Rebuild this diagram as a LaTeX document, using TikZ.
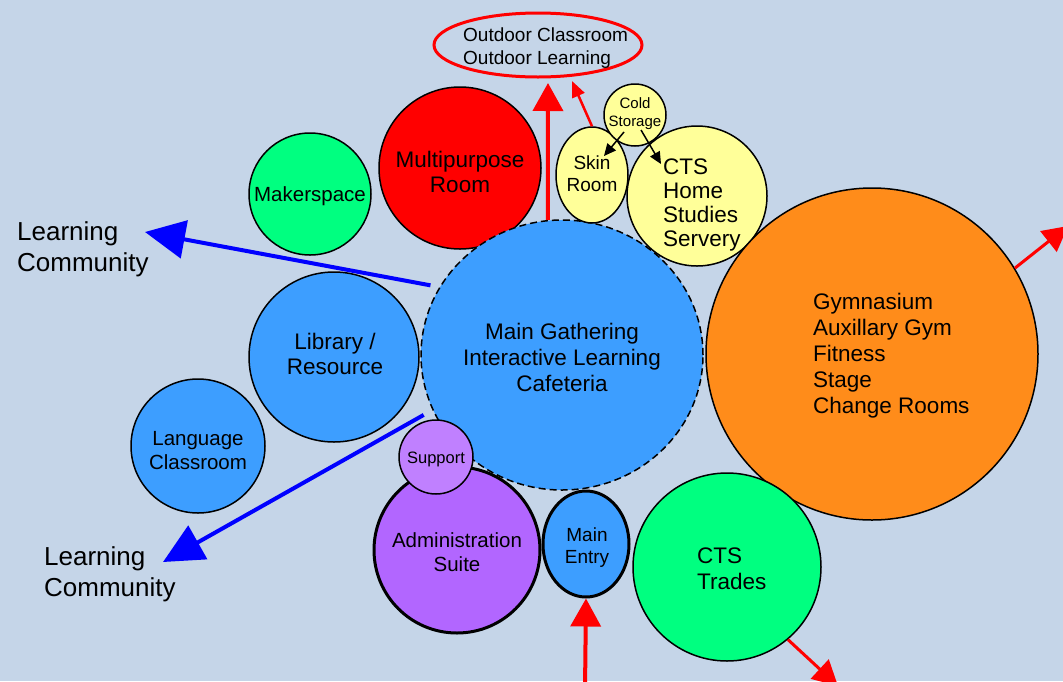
\documentclass[tikz,border=0pt]{standalone}
\usepackage{fontspec}
\setmainfont{Liberation Sans}
\usetikzlibrary{arrows.meta,shapes.geometric}
\definecolor{bg}{RGB}{197,213,232}
\definecolor{cblue}{RGB}{61,158,255}
\definecolor{cred}{RGB}{255,0,0}
\definecolor{cgreen}{RGB}{0,255,128}
\definecolor{cyellow}{RGB}{255,255,153}
\definecolor{corange}{RGB}{255,140,26}
\definecolor{cpurple}{RGB}{178,102,255}
\definecolor{clpurple}{RGB}{192,128,255}
\newcommand{\fsz}[2]{\fontsize{#1}{#2}\selectfont}
\begin{document}
\begin{tikzpicture}[x=1pt,y=-1pt,
  room/.style={circle,draw=black,line width=1.5pt,inner sep=0pt},
  oval/.style={ellipse,draw=black,line width=1.5pt,inner sep=0pt},
  txt/.style={inner sep=0pt,align=center,text=black},
  lbl/.style={inner sep=0pt,align=left,text=black},
  bluearr/.style={draw=blue,line width=4pt,-{Triangle[length=40pt,width=38pt]}},
  redbig/.style={draw=cred,line width=4pt,-{Triangle[length=28pt,width=30pt]}},
  redout/.style={draw=cred,line width=3pt,-{Triangle[length=25pt,width=26pt]}},
  redthin/.style={draw=cred,line width=2.5pt,-{Triangle[length=16pt,width=13pt]}},
  blackarr/.style={draw=black,line width=1.5pt,-{Triangle[length=12pt,width=11pt]}}]
\fill[bg] (0,0) rectangle (1063,681);
\useasboundingbox (0,0) rectangle (1063,681);

% outdoor
\node[ellipse,draw=cred,line width=3pt,minimum width=208pt,minimum height=64pt,inner sep=0pt] (od) at (538,45) {};
\node[lbl,anchor=west,font=\fsz{19}{23}] (odt) at (463,48) {Outdoor Classroom\\Outdoor Learning};

% rooms
\node[room,fill=cred,minimum size=162pt] (mp) at (460,168) {};
\node[txt,font=\fsz{22.5}{25}] (mpt) at (460,172) {Multipurpose\\Room};
\node[room,fill=cgreen,minimum size=122pt] (mk) at (310,194) {};
\node[txt,font=\fsz{20.5}{24}] (mkt) at (310,196) {Makerspace};
\node[oval,fill=cblue,dash pattern=on 7pt off 4pt,minimum width=282pt,minimum height=270pt] (mg) at (562,355) {};
\node[txt,font=\fsz{22.5}{26}] (mgt) at (562,357) {Main Gathering\\Interactive Learning\\Cafeteria};
\node[oval,fill=cyellow,minimum width=72pt,minimum height=96pt] (sk) at (592,175) {};
\node[txt,font=\fsz{19}{22}] (skt) at (592,174) {Skin\\Room};
\node[room,fill=cyellow,minimum size=140pt] (ch) at (697,196) {};
\node[lbl,anchor=west,font=\fsz{22.5}{24}] (cht) at (663,205) {CTS\\Home\\Studies\\Servery};
\node[room,fill=cyellow,minimum size=62pt] (cs) at (635,115) {};
\node[txt,font=\fsz{15}{18}] (cst) at (635,114) {Cold\\Storage};
\node[room,fill=corange,minimum size=332pt] (gy) at (872,354) {};
\node[lbl,anchor=west,font=\fsz{22.5}{26}] (gyt) at (813,356) {Gymnasium\\Auxillary Gym\\Fitness\\Stage\\Change Rooms};
\node[room,fill=cblue,minimum size=170pt] (lib) at (334,357) {};
\node[txt,font=\fsz{22.5}{25}] (libt) at (335,354) {Library /\\Resource};
\node[room,fill=cblue,minimum size=134pt] (lang) at (198,446) {};
\node[txt,font=\fsz{20.5}{24}] (langt) at (198,451) {Language\\Classroom};
\node[room,fill=cpurple,line width=3pt,minimum size=166pt] (adm) at (457,550) {};
\node[txt,font=\fsz{20.5}{24}] (admt) at (457,552) {Administration\\Suite};
\node[room,fill=clpurple,minimum size=74pt] (sup) at (436,457) {};
\node[txt,font=\fsz{16.5}{18}] (supt) at (436,459) {Support};
\node[oval,fill=cblue,line width=3pt,minimum width=86pt,minimum height=106pt] (me) at (586,544) {};
\node[txt,font=\fsz{19}{22}] (met) at (587,548) {Main\\Entry};
\node[room,fill=cgreen,minimum size=188pt] (tr) at (727,567) {};
\node[lbl,anchor=west,font=\fsz{22.5}{26}] (trt) at (697,569) {CTS\\Trades};

% learning community labels
\node[lbl,anchor=west,font=\fsz{26}{31}] (lc1) at (17,249) {Learning\\Community};
\node[lbl,anchor=west,font=\fsz{26}{31}] (lc2) at (44,574) {Learning\\Community};

% coordinates
\coordinate (b1) at (145,232);
\coordinate (b2) at (163,562);
\coordinate (odb) at (548,83);
\coordinate (odc) at (572,81);
\coordinate (cs1) at (624,132);
\coordinate (cs1e) at (604,156);
\coordinate (cs2) at (641,130);
\coordinate (cs2e) at (661,164);
\coordinate (gye) at (1068,226);
\coordinate (tre) at (838,686);
\coordinate (mes) at (585,690);

% connectors
\draw[bluearr,shorten <=9pt] (mg.151) -- (b1);
\draw[bluearr,shorten <=10pt] (mg.203) -- (b2);
\draw[redbig] (mg.96) -- (odb);
\draw[redthin] (sk.north) -- (odc);
\draw[blackarr] (cs1) -- (cs1e);
\draw[blackarr] (cs2) -- (cs2e);
\draw[redout] (gy.31) -- (gye);
\draw[redout] (tr.-50) -- (tre);
\draw[redbig] (mes) -- (me.south);
\end{tikzpicture}
\end{document}
